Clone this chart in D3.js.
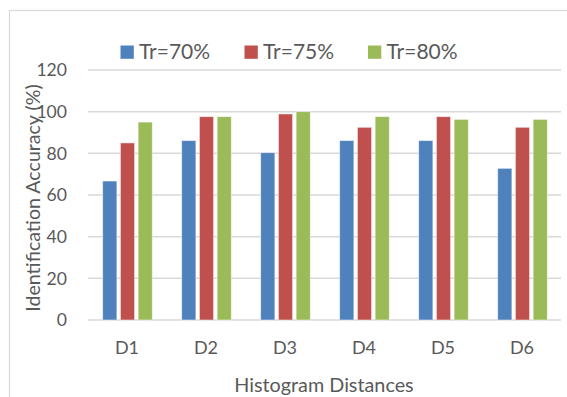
<!DOCTYPE html>
<html>
<head>
<meta charset="utf-8">
<script src="https://cdn.jsdelivr.net/npm/d3@7"></script>
<style>
  html, body { margin: 0; padding: 0; background: #fff; }
  svg { display: block; font-family: Lato, "Open Sans", sans-serif; }
</style>
</head>
<body>
<svg id="chart" width="567" height="397"></svg>
<script>
// Histogram distance measures on the x axis
const categories = ["D1", "D2", "D3", "D4", "D5", "D6"];
// Training ratio series
const seriesNames = ["Tr=70%", "Tr=75%", "Tr=80%"];
const tr70 = [66.7, 86.1, 80.3, 86.1, 86.1, 72.8];
const tr75 = [85.0, 97.6, 98.9, 92.5, 97.6, 92.5];
const tr80 = [95.0, 97.6, 100.0, 97.6, 96.3, 96.3];
const yTicks = [0, 20, 40, 60, 80, 100, 120];

const seriesValues = [tr70, tr75, tr80];
const colors = ["#4f81bd", "#c0504d", "#9bbb59"];
const textColor = "#595959";
const gridColor = "#d9d9d9";

const svg = d3.select("#chart");

// outer chart frame
svg.append("rect")
  .attr("x", 9.5).attr("y", 10.5)
  .attr("width", 600).attr("height", 420)
  .attr("fill", "#fff")
  .attr("stroke", gridColor).attr("stroke-width", 1.2);

const x0 = d3.scaleBand().domain(categories).range([88, 562]).paddingInner(0).paddingOuter(0);
const x1 = d3.scaleBand().domain(seriesNames).range([0, x0.bandwidth()])
  .paddingInner(0.2).paddingOuter(0.83);
const y = d3.scaleLinear().domain([0, 120]).range([320, 70]);

// horizontal gridlines
svg.append("g").selectAll("line").data(yTicks).join("line")
  .attr("x1", 88).attr("x2", 561)
  .attr("y1", d => y(d)).attr("y2", d => y(d))
  .attr("stroke", gridColor).attr("stroke-width", 1.5);

// y axis tick labels
svg.append("g").selectAll("text").data(yTicks).join("text")
  .attr("x", 67).attr("y", d => y(d) + 6.3)
  .attr("text-anchor", "end")
  .attr("font-size", 17.6).attr("fill", textColor)
  .text(d => d);

// bars
const rows = categories.map((c, i) => ({
  cat: c,
  vals: seriesNames.map((s, k) => ({ s, k, v: seriesValues[k][i] }))
}));
const groups = svg.append("g").selectAll("g").data(rows).join("g")
  .attr("transform", d => `translate(${x0(d.cat)},0)`);
groups.selectAll("rect").data(d => d.vals).join("rect")
  .attr("x", d => x1(d.s))
  .attr("y", d => y(d.v))
  .attr("width", x1.bandwidth())
  .attr("height", d => y(0) - y(d.v))
  .attr("fill", d => colors[d.k])
  .attr("stroke", "#fff").attr("stroke-opacity", 0.6).attr("stroke-width", 0.8);

// x axis category labels
svg.append("g").selectAll("text").data(categories).join("text")
  .attr("x", d => x0(d) + x0.bandwidth() / 2 - 0.5)
  .attr("y", 354)
  .attr("text-anchor", "middle")
  .attr("font-size", 18).attr("fill", textColor)
  .text(d => d);

// axis titles
svg.append("text")
  .attr("x", 324).attr("y", 391.5)
  .attr("text-anchor", "middle")
  .attr("font-size", 19.8).attr("fill", textColor)
  .text("Histogram Distances");

svg.append("text")
  .attr("transform", "translate(39.5,198) rotate(-90)")
  .attr("text-anchor", "middle")
  .attr("font-size", 19.6).attr("fill", textColor)
  .text("Identification Accuracy (%)");

// legend
const legendX = [120.5, 244.5, 368];
const legend = svg.append("g").selectAll("g").data(seriesNames).join("g")
  .attr("transform", (d, i) => `translate(${legendX[i]},0)`);
legend.append("rect")
  .attr("x", 0).attr("y", 45.5).attr("width", 13.3).attr("height", 13.3)
  .attr("fill", (d, i) => colors[i]);
legend.append("text")
  .attr("x", 18.5).attr("y", 58.7)
  .attr("font-size", 21).attr("fill", textColor)
  .text(d => d);
</script>
</body>
</html>
